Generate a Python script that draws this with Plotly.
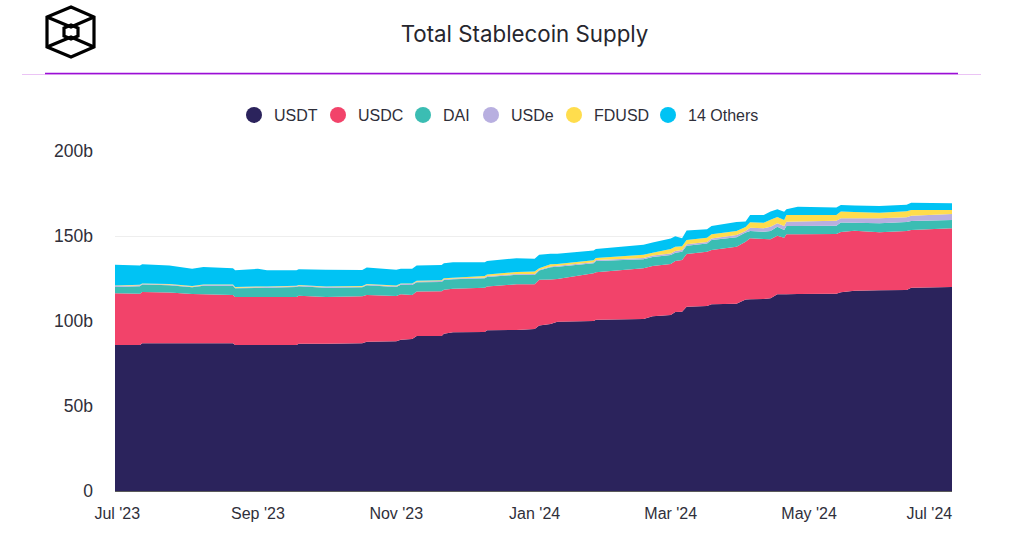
import pandas as pd
import plotly.graph_objects as go

START = "2023-06-30"
day_offsets = [0,11,12,24,34,39,52,53,63,67,80,81,93,109,111,124,126,131,133,144,145,149,163,164,177,185,187,192,195,211,212,233,237,245,247,250,252,261,263,274,278,280,286,289,292,295,296,301,318,320,326,337,349,351,369]

usdt = [85.9,85.9,86.9,86.9,86.9,86.9,86.9,85.9,85.9,85.9,85.9,86.6,86.6,86.9,87.8,88.1,89.0,89.4,91.2,91.2,92.5,93.4,93.5,94.5,94.7,95.3,97.4,98.2,99.6,100.0,100.8,101.2,102.8,103.5,105.3,105.5,108.4,108.8,109.8,110.2,112.6,112.8,112.9,113.4,115.7,115.7,115.8,115.9,116.1,116.9,117.8,118.1,118.2,119.6,120.0]
usdc = [30.4,30.2,30.2,29.9,29.0,28.9,28.4,28.2,28.2,28.2,28.2,28.2,27.5,27.6,27.5,26.6,26.7,25.9,26.1,26.3,25.9,25.6,26.1,25.8,26.9,26.3,26.8,26.2,25.1,28.1,27.9,29.8,29.6,30.0,30.0,30.4,31.0,31.9,31.9,33.5,34.0,35.9,35.4,34.7,34.5,33.3,35.2,35.1,35.1,35.5,35.3,34.1,34.7,33.9,34.5]
dai = [3.7,4.4,4.3,4.2,3.9,5.0,5.5,5.1,5.3,5.4,5.9,5.7,5.5,5.3,5.7,5.3,5.6,5.9,5.5,5.5,5.7,5.5,5.5,5.6,5.6,5.5,5.5,7.2,7.2,5.9,6.6,5.3,5.3,5.3,4.9,4.9,4.9,4.9,5.9,5.5,5.4,4.3,4.2,4.9,5.3,4.5,4.9,4.9,4.9,5.5,4.7,5.3,5.3,5.3,4.9]
usde = [0.6,0.5,0.4,0.4,0.4,0.4,0.4,0.4,0.5,0.5,0.5,0.4,0.4,0.4,0.4,0.5,0.4,0.5,0.5,0.5,0.5,0.5,0.5,0.6,0.4,0.6,0.4,0.5,0.6,0.6,0.6,0.8,0.8,0.9,1.0,1.0,0.8,0.9,1.0,1.4,0.9,1.9,2.0,2.4,2.0,2.4,2.5,2.6,2.8,2.6,2.6,2.9,2.9,3.1,3.5]
fdusd = [0.3,0.3,0.3,0.4,0.4,0.3,0.3,0.4,0.4,0.3,0.2,0.3,0.3,0.4,0.4,0.4,0.4,0.4,0.4,0.5,0.5,0.5,0.9,0.9,1.2,1.4,1.0,1.3,1.1,1.2,1.2,1.8,1.6,2.6,2.5,2.1,2.5,2.4,2.4,2.4,2.4,3.2,3.3,4.1,3.7,3.5,3.9,3.8,3.5,3.9,3.7,3.3,3.5,3.4,2.4]
others = [12.2,11.4,11.3,10.9,10.2,10.3,9.5,9.8,10.4,9.5,9.1,9.3,9.9,9.4,9.6,9.2,8.6,8.7,8.9,9.0,8.8,9.1,8.1,7.9,8.1,7.5,7.8,6.1,6.0,5.6,5.3,5.9,6.1,6.3,6.1,4.8,5.7,5.1,4.9,5.3,3.2,4.3,4.5,4.9,4.5,4.9,3.4,4.9,4.3,3.9,3.8,3.9,3.8,4.3,3.9]

series_names = ["USDT", "USDC", "DAI", "USDe", "FDUSD", "14 Others"]
series_values = [usdt, usdc, dai, usde, fdusd, others]
series_colors = ["#2B235C", "#F2436A", "#3BBDB3", "#B8AFE0", "#FFDD4D", "#00C3F4"]

y_ticks = [0, 50, 100, 150, 200]
y_labels = ["0", "50b", "100b", "150b", "200b"]
x_ticks = ["2023-07-01", "2023-09-01", "2023-11-01", "2024-01-01", "2024-03-01", "2024-05-01", "2024-06-23"]
x_labels = ["Jul '23", "Sep '23", "Nov '23", "Jan '24", "Mar '24", "May '24", "Jul '24"]

W, H = 1009, 538
L, R, T, B = 115, 952, 151, 491
LEGEND_CIRCLES = [254, 338, 423, 491, 574, 668]
dates = pd.Timestamp(START) + pd.to_timedelta(day_offsets, unit="D")

def px(x):
    return (x - L) / (R - L)

def py(y):
    return (B - y) / (B - T)

def path(points, close=False):
    s = "M " + " L ".join(f"{px(a):.5f},{py(b):.5f}" for a, b in points)
    return s + (" Z" if close else "")

fig = go.Figure()
for name, vals, col in zip(series_names, series_values, series_colors):
    fig.add_trace(go.Scatter(x=dates, y=vals, name=name, stackgroup="one", mode="none",
                             fillcolor=col, showlegend=False, hoverinfo="x+y+name"))

legends = {}
for i, (name, col, cx) in enumerate(zip(series_names, series_colors, LEGEND_CIRCLES)):
    key = "legend" if i == 0 else f"legend{i + 1}"
    fig.add_trace(go.Scatter(x=[None], y=[None], name=name, mode="markers", legend=key,
                             marker=dict(color=col, size=16, symbol="circle")))
    legends[key] = dict(orientation="h", x=px(cx - 20), y=py(115), xanchor="left", yanchor="middle",
                        bgcolor="rgba(0,0,0,0)",
                        font=dict(family="Liberation Sans", size=16, color="#2F2F3A"),
                        itemclick=False, itemdoubleclick=False)

logo = [
    ([(71, 7), (94, 17), (94, 47), (71, 57), (47, 47), (47, 17)], True),
    ([(71, 25), (78, 28), (78, 36), (71, 39), (64, 36), (64, 28)], True),
    ([(47, 17), (71, 27), (94, 17)], False),
    ([(47, 47), (71, 37), (94, 47)], False),
]
shapes = [dict(type="path", xref="paper", yref="paper", path=path(p, c),
               line=dict(color="#000000", width=3.2)) for p, c in logo]
shapes += [
    dict(type="line", xref="paper", yref="paper", x0=px(22), x1=px(981), y0=py(74.5), y1=py(74.5),
         line=dict(color="#EBC4F5", width=1)),
    dict(type="line", xref="paper", yref="paper", x0=px(45), x1=px(958), y0=py(73.5), y1=py(73.5),
         line=dict(color="#9A0FD6", width=1.5)),
]

fig.update_layout(
    width=W, height=H,
    margin=dict(l=L, r=W - R, t=T, b=H - B, pad=0),
    paper_bgcolor="#FFFFFF", plot_bgcolor="#FFFFFF",
    font=dict(family="Liberation Sans", size=16, color="#2F2F3A"),
    title=dict(text="Total Stablecoin Supply", x=524.5 / W, y=1 - 34 / H, xanchor="center", yanchor="middle",
               font=dict(family="Inter", size=22.3, color="#26262E")),
    shapes=shapes,
    xaxis=dict(type="date", range=[dates[0], dates[-1]], tickmode="array", tickvals=x_ticks, ticktext=x_labels,
               showgrid=False, ticks="", showline=True, linecolor="#5A5A5A", linewidth=1, ticklabelstandoff=8,
               zeroline=False),
    yaxis=dict(range=[0, 200], tickmode="array", tickvals=y_ticks, ticktext=y_labels, showgrid=True,
               gridcolor="#EEEEEE", gridwidth=1, ticks="", ticklabelstandoff=21, zeroline=False, showline=False,
               tickfont=dict(size=17.5)),
    **legends,
)
fig.write_html("out.html", post_script="document.body.style.margin='0';", config=dict(displayModeBar=False))
